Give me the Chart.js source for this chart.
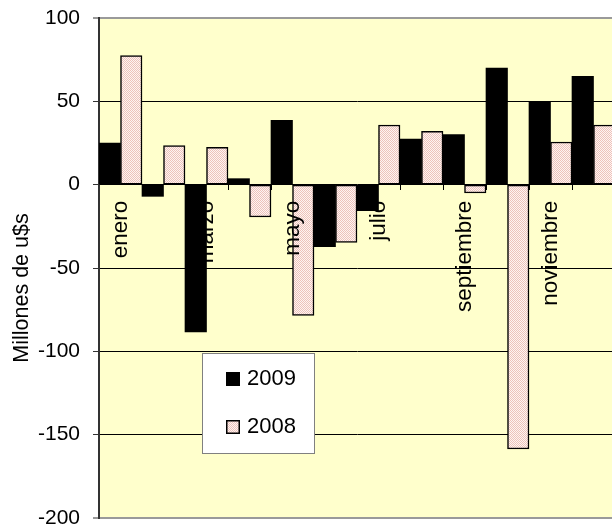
<!DOCTYPE html>
<html>
<head>
<meta charset="utf-8">
<script src="https://cdn.jsdelivr.net/npm/chart.js@4/dist/chart.umd.min.js"></script>
<style>
  html, body { margin: 0; padding: 0; background: #ffffff; overflow: hidden; }
  #wrap { width: 616px; height: 530px; }
</style>
</head>
<body>
<div id="wrap"><canvas id="c" width="616" height="530"></canvas></div>
<script>
// Monthly balance, millions of US$
const months = ['enero', 'febrero', 'marzo', 'abril', 'mayo', 'junio',
                'julio', 'agosto', 'septiembre', 'octubre', 'noviembre', 'diciembre'];
const tickLabels = ['enero', '', 'marzo', '', 'mayo', '', 'julio', '', 'septiembre', '', 'noviembre', ''];
const values2009 = [25.0, -7.0, -88.4, 3.6, 38.6, -37.2, -15.6, 27.4, 30.0, 70.0, 50.0, 65.0];
const values2008 = [77.4, 23.4, 22.4, -19.4, -78.4, -34.6, 35.8, 32.0, -5.0, -158.6, 25.6, 35.8];
const yTicks = [100, 50, 0, -50, -100, -150, -200];
const seriesNames = ['2009', '2008'];
const axisTitle = 'Millones de u$s';

const FONT = '"Liberation Sans", Arial, sans-serif';

// dotted pink fill for the 2008 bars
function makeDotPattern() {
  const p = document.createElement('canvas');
  p.width = 2; p.height = 2;
  const g = p.getContext('2d');
  g.fillStyle = '#fef4f2'; g.fillRect(0, 0, 2, 2);
  g.fillStyle = '#edc3bb';
  g.fillRect(0, 0, 1, 1);
  g.fillRect(1, 1, 1, 1);
  return document.getElementById('c').getContext('2d').createPattern(p, 'repeat');
}
const pinkDots = makeDotPattern();

const plotBackground = {
  id: 'plotBackground',
  beforeDraw(chart) {
    const { ctx, chartArea: a } = chart;
    ctx.save();
    ctx.fillStyle = '#ffffcc';
    ctx.fillRect(a.left, a.top, a.right - a.left, a.bottom - a.top);
    ctx.restore();
  }
};

const extras = {
  id: 'extras',
  afterDraw(chart) {
    const { ctx } = chart;
    ctx.save();
    // y axis title
    ctx.translate(22, 288);
    ctx.rotate(-Math.PI / 2);
    ctx.font = '21.5px ' + FONT;
    ctx.fillStyle = '#000';
    ctx.textAlign = 'center';
    ctx.textBaseline = 'middle';
    ctx.fillText(axisTitle, 0, 0);
    ctx.restore();

    // legend box
    ctx.save();
    ctx.fillStyle = '#ffffff';
    ctx.fillRect(202, 353, 113, 100);
    ctx.strokeStyle = '#808080';
    ctx.lineWidth = 1;
    ctx.strokeRect(202.5, 353.5, 112, 100);
    const rows = [379, 427];
    chart.data.datasets.forEach((ds, i) => {
      const y = rows[i];
      ctx.fillStyle = ds.backgroundColor;
      ctx.fillRect(226, y - 7, 14, 14);
      if (ds.borderWidth) {
        ctx.strokeStyle = '#000';
        ctx.lineWidth = 1.5;
        ctx.strokeRect(226.75, y - 6.25, 12.5, 12.5);
      }
      ctx.fillStyle = '#000';
      ctx.font = '22px ' + FONT;
      ctx.textAlign = 'left';
      ctx.textBaseline = 'middle';
      ctx.fillText(ds.label, 247, y);
    });
    ctx.restore();
  }
};

new Chart(document.getElementById('c'), {
  type: 'bar',
  data: {
    labels: months,
    datasets: [
      {
        label: seriesNames[0],
        data: values2009,
        backgroundColor: '#000000',
        borderWidth: 0
      },
      {
        label: seriesNames[1],
        data: values2008,
        backgroundColor: pinkDots,
        borderColor: '#000000',
        borderWidth: 1.5,
        borderSkipped: false
      }
    ]
  },
  options: {
    responsive: false,
    animation: false,
    devicePixelRatio: 1,
    layout: { padding: { top: 18, bottom: 12, left: 0, right: 1 } },
    datasets: { bar: { categoryPercentage: 1.0, barPercentage: 1.0 } },
    plugins: {
      legend: { display: false },
      tooltip: { enabled: false },
      title: { display: false }
    },
    scales: {
      x: {
        type: 'category',
        position: { y: 0 },
        offset: true,
        grid: {
          display: true,
          offset: true,
          drawOnChartArea: false,
          drawTicks: true,
          tickLength: 5,
          color: '#000000'
        },
        border: { display: false },
        ticks: {
          autoSkip: false,
          minRotation: 90,
          maxRotation: 90,
          padding: 11,
          color: '#000000',
          z: 1,
          font: { family: FONT, size: 22.5, lineHeight: 1 },
          callback: (v, i) => tickLabels[i]
        },
        afterFit(s) { s.height = 0; s.paddingLeft = 0; s.paddingRight = 0; s.paddingTop = 0; s.paddingBottom = 0; }
      },
      y: {
        min: -200,
        max: 100,
        afterBuildTicks(s) { s.ticks = yTicks.map(v => ({ value: v })); },
        ticks: {
          color: '#000000',
          padding: 13,
          font: { family: FONT, size: 21, lineHeight: 1 }
        },
        grid: {
          color: c => (c.tick && (c.tick.value === 100 || c.tick.value === -200)) ? '#9a9a9a' : '#000000',
          lineWidth: c => (c.tick && (c.tick.value === 100 || c.tick.value === -200)) ? 2 : 1,
          tickLength: 6,
          tickColor: '#333333',
          tickWidth: 1
        },
        border: { display: true, color: '#333333', width: 2 },
        afterFit(s) { s.width = 99; s.paddingTop = 0; s.paddingBottom = 0; }
      }
    }
  },
  plugins: [plotBackground, extras]
});
</script>
</body>
</html>
